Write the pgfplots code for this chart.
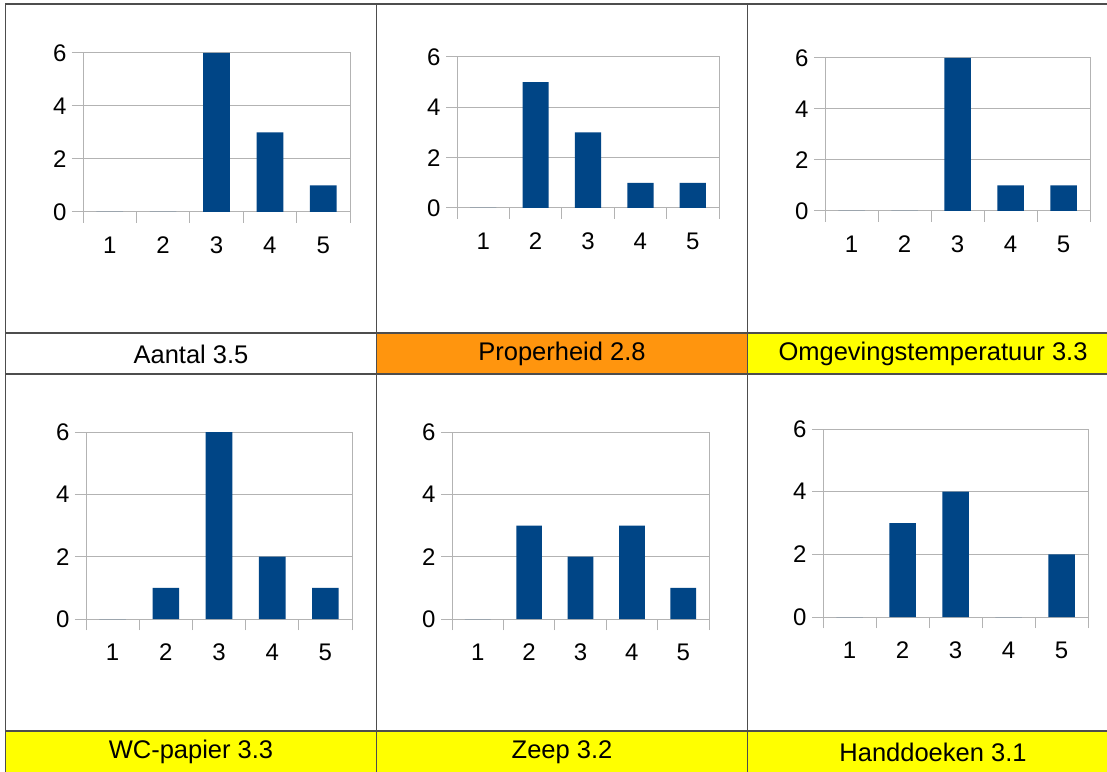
\documentclass[border=0pt]{standalone}
\usepackage{pgfplots}
\pgfplotsset{compat=1.18}
\usepackage{fontspec}
\setmainfont{Liberation Sans}
\definecolor{barblue}{HTML}{004586}
\definecolor{gridgray}{HTML}{B3B3B3}
\definecolor{cellorange}{HTML}{FF950E}
\definecolor{cellyellow}{HTML}{FFFF00}
\definecolor{tableline}{HTML}{4D4D4D}
\newcommand{\bigfont}{\fontsize{25.5}{30}\selectfont}
\newcommand{\tickfont}{\fontsize{24}{28}\selectfont}

\pgfplotsset{minichart/.style={
  scale only axis, anchor=south west,
  xmin=0.5, xmax=5.5, ymin=0, ymax=6,
  xtick={1,2,3,4,5},
  minor xtick={0.5,1.5,2.5,3.5,4.5,5.5},
  ytick={0,2,4,6},
  ymajorgrids,
  major grid style={gridgray, line width=1pt},
  axis line style={gridgray, line width=1pt},
  tick align=outside, xtick pos=bottom, ytick pos=left,
  major tick length=11pt, minor tick length=11pt,
  major x tick style={draw=none},
  minor x tick style={gridgray, line width=1pt},
  ytick style={gridgray, line width=1pt},
  /pgf/number format/assume math mode=true,
  tick label style={font=\tickfont, text=black},
  xticklabel style={yshift=-10pt},
  yticklabel style={xshift=-2pt},
  ybar, bar width=0.5,
  clip=false,
}}

\begin{document}
\begin{tikzpicture}
\path[use as bounding box] (0pt,0pt) rectangle (1107pt,771pt);
\fill[white] (0pt,0pt) rectangle (1107pt,771pt);
% label cell fills
\fill[cellorange] (376.5pt,397pt) rectangle (747.5pt,438pt);
\fill[cellyellow] (747.5pt,397pt) rectangle (1125pt,438pt);
\fill[cellyellow] (5.5pt,-5pt) rectangle (1125pt,40pt);
% table lines
\begin{scope}[tableline, line width=1.2pt]
\draw (5.5pt,-5pt) -- (5.5pt,767pt) -- (1125pt,767pt);
\draw (376.5pt,-5pt) -- (376.5pt,767pt);
\draw (747.5pt,-5pt) -- (747.5pt,767pt);
\draw (5.5pt,438pt) -- (1125pt,438pt);
\draw (5.5pt,397pt) -- (1125pt,397pt);
\draw (5.5pt,40pt) -- (1125pt,40pt);
\end{scope}

% Row 1
\begin{axis}[minichart, at={(83pt,559pt)}, width=267pt, height=159pt]
\addplot[fill=barblue, draw=none] coordinates {(1,0) (2,0) (3,6) (4,3) (5,1)};
\end{axis}
\begin{axis}[minichart, at={(457pt,563pt)}, width=262pt, height=151pt]
\addplot[fill=barblue, draw=none] coordinates {(1,0) (2,5) (3,3) (4,1) (5,1)};
\end{axis}
\begin{axis}[minichart, at={(825pt,560pt)}, width=265pt, height=153pt]
\addplot[fill=barblue, draw=none] coordinates {(1,0) (2,0) (3,6) (4,1) (5,1)};
\end{axis}
% Row 2
\begin{axis}[minichart, at={(86pt,152pt)}, width=266pt, height=187pt]
\addplot[fill=barblue, draw=none] coordinates {(1,0) (2,1) (3,6) (4,2) (5,1)};
\end{axis}
\begin{axis}[minichart, at={(452pt,152pt)}, width=257pt, height=187pt]
\addplot[fill=barblue, draw=none] coordinates {(1,0) (2,3) (3,2) (4,3) (5,1)};
\end{axis}
\begin{axis}[minichart, at={(823pt,154pt)}, width=265pt, height=188pt]
\addplot[fill=barblue, draw=none] coordinates {(1,0) (2,3) (3,4) (4,0) (5,2)};
\end{axis}

% labels
\node[font=\bigfont] at (191pt,417pt) {Aantal 3.5};
\node[font=\bigfont] at (562pt,417pt) {Properheid 2.8};
\node[font=\bigfont] at (933pt,417pt) {Omgevingstemperatuur 3.3};
\node[font=\bigfont] at (191pt,19pt) {WC-papier 3.3};
\node[font=\bigfont] at (562pt,19pt) {Zeep 3.2};
\node[font=\bigfont] at (933pt,19pt) {Handdoeken 3.1};
\end{tikzpicture}
\end{document}
